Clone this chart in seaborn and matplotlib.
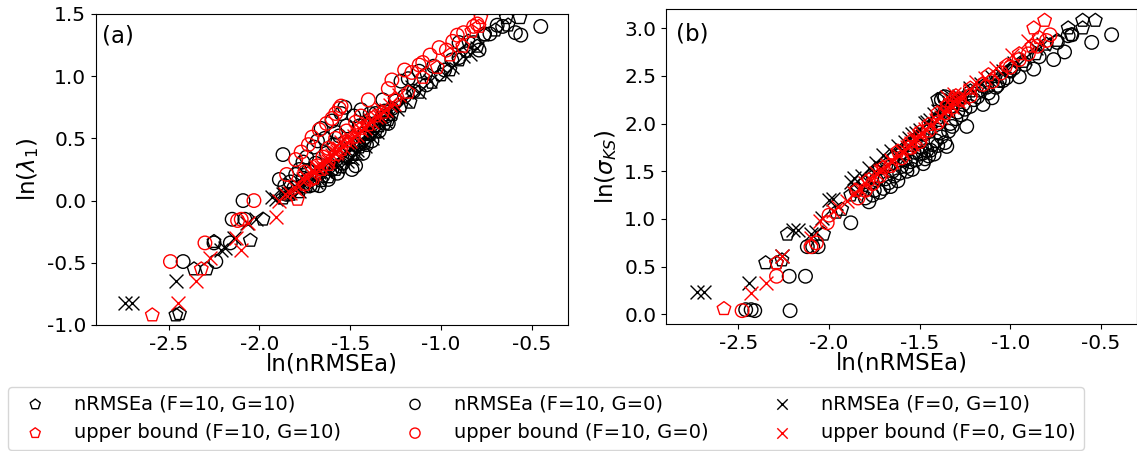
import matplotlib
matplotlib.use("Agg")
import matplotlib.pyplot as plt
import seaborn as sns

# ---------------- Panel (a): ln(lambda_1) vs ln(nRMSEa) ----------------
a_pent_nr_x = [-2.46, -2.44, -2.36, -2.29, -2.25, -2.05, -1.98, -1.87, -1.83, -1.78, -1.74, -1.70, -1.66,
               -1.62, -1.58, -1.55, -1.52, -1.48, -1.45, -1.42, -1.39, -1.36, -1.34, -1.31, -1.29, -1.27,
               -1.22, -1.17, -1.12, -1.08, -1.05, -1.00, -0.95, -0.90, -0.86, -0.85, -0.80, -0.76, -0.70,
               -0.64, -0.63, -0.565]
a_pent_nr_y = [-0.92, -0.91, -0.55, -0.55, -0.33, -0.32, -0.15, 0.02, 0.05, 0.07, 0.11, 0.12, 0.16,
               0.19, 0.25, 0.27, 0.34, 0.37, 0.43, 0.46, 0.53, 0.55, 0.60, 0.62, 0.65, 0.69,
               0.76, 0.79, 0.87, 1.02, 0.95, 1.01, 1.05, 1.13, 1.20, 1.28, 1.24, 1.33, 1.37,
               1.47, 1.41, 1.47]

a_pent_ub_x = [-2.59, -2.32, -1.79, -1.75, -1.70, -1.66, -1.62, -1.58, -1.55, -1.52, -1.48, -1.44, -1.40,
               -1.36, -1.32, -1.25, -1.18, -1.10, -1.02, -0.95, -0.88, -0.83, -0.79, -0.78]
a_pent_ub_y = [-0.92, -0.55, 0.01, 0.13, 0.18, 0.25, 0.29, 0.37, 0.41, 0.48, 0.51, 0.58, 0.61,
               0.68, 0.71, 0.81, 0.87, 0.99, 1.07, 1.17, 1.24, 1.36, 1.40, 1.47]

a_circ_nr_x = [-2.42, -2.24, -2.25, -2.16, -2.15, -2.08, -2.09, -1.89, -1.87, -1.86, -1.83, -1.80, -1.78,
               -1.76, -1.74, -1.72, -1.70, -1.68, -1.67, -1.66, -1.64, -1.62, -1.60, -1.58, -1.57, -1.55,
               -1.54, -1.53, -1.52, -1.50, -1.48, -1.47, -1.46, -1.44, -1.43, -1.42, -1.40, -1.38, -1.36,
               -1.34, -1.32, -1.30, -1.27, -1.22, -1.18, -1.15, -1.12, -1.08, -1.04, -0.98, -0.94, -0.90,
               -0.90, -0.82, -0.79, -0.76, -0.73, -0.69, -0.66, -0.59, -0.56, -0.45,
               -1.85, -1.81, -1.76, -1.73, -1.69, -1.65, -1.63, -1.60, -1.59, -1.56, -1.51, -1.49,
               -1.45, -1.41, -1.39, -1.37, -1.33, -1.31, -1.29, -1.25, -1.20]
a_circ_nr_y = [-0.49, -0.49, -0.34, -0.34, -0.15, -0.15, 0.00, 0.17, 0.37, 0.12, 0.15, 0.21, 0.25,
               0.31, 0.35, 0.12, 0.43, 0.48, 0.12, 0.58, 0.50, 0.17, 0.64, 0.55, 0.22, 0.70,
               0.30, 0.75, 0.60, 0.35, 0.68, 0.28, 0.45, 0.73, 0.38, 0.54, 0.62, 0.48, 0.70,
               0.56, 0.81, 0.68, 0.74, 0.96, 0.98, 0.88, 1.04, 0.93, 1.08, 1.05, 1.13, 1.27,
               1.15, 1.27, 1.21, 1.34, 1.34, 1.41, 1.40, 1.35, 1.33, 1.40,
               0.05, 0.10, 0.18, 0.24, 0.30, 0.20, 0.38, 0.25, 0.45, 0.52, 0.45, 0.25,
               0.60, 0.45, 0.70, 0.60, 0.66, 0.72, 0.62, 0.80, 0.84]

a_circ_ub_x = [-2.49, -2.30, -2.12, -2.10, -2.03, -1.85, -1.80, -1.77, -1.75, -1.73, -1.72, -1.71, -1.68,
               -1.67, -1.65, -1.63, -1.62, -1.60, -1.58, -1.58, -1.56, -1.55, -1.52, -1.47, -1.44, -1.40,
               -1.29, -1.27, -1.20, -1.16, -1.12, -1.10, -1.06, -1.01, -0.97, -0.935, -0.91, -0.875,
               -0.82, -0.80]
a_circ_ub_y = [-0.49, -0.34, -0.16, -0.15, 0.00, 0.21, 0.33, 0.39, 0.23, 0.45, 0.17, 0.51, 0.28,
               0.57, 0.35, 0.62, 0.42, 0.66, 0.50, 0.70, 0.74, 0.76, 0.56, 0.63, 0.68, 0.81,
               0.90, 0.97, 1.05, 1.03, 1.09, 1.11, 1.17, 1.23, 1.21, 1.28, 1.33, 1.35,
               1.40, 1.42]

a_x_nr_x = [-2.74, -2.70, -2.46, -2.21, -2.19, -2.14, -2.07, -2.02, -1.93, -1.91, -1.87, -1.84, -1.80,
            -1.76, -1.73, -1.70, -1.67, -1.64, -1.61, -1.58, -1.56, -1.53, -1.50, -1.47, -1.45, -1.43,
            -1.40, -1.37, -1.34, -1.31, -1.28, -1.24, -1.20, -1.16, -1.12, -1.06, -0.98, -0.94, -0.88,
            -0.84, -0.80,
            -1.62, -1.57, -1.52, -1.49, -1.46, -1.42, -1.38, -1.35, -1.78, -1.69]
a_x_nr_y = [-0.82, -0.82, -0.65, -0.40, -0.38, -0.30, -0.18, -0.15, 0.03, 0.01, 0.05, 0.06, 0.11,
            0.13, 0.18, 0.18, 0.23, 0.24, 0.29, 0.31, 0.35, 0.36, 0.42, 0.38, 0.46, 0.48,
            0.54, 0.56, 0.62, 0.64, 0.71, 0.74, 0.81, 0.91, 0.87, 0.96, 1.01, 1.07, 1.16,
            1.18, 1.23,
            0.22, 0.27, 0.32, 0.34, 0.41, 0.44, 0.50, 0.55, 0.08, 0.15]

a_x_ub_x = [-2.45, -2.35, -2.27, -2.13, -2.10, -2.06, -1.91, -1.89, -1.86, -1.83, -1.81, -1.78, -1.76,
            -1.74, -1.72, -1.70, -1.68, -1.66, -1.64, -1.62, -1.60, -1.58, -1.56, -1.54, -1.52, -1.50,
            -1.48, -1.46, -1.44, -1.42, -1.40, -1.38, -1.36, -1.34, -1.32, -1.30, -1.28, -1.26, -1.23,
            -1.75, -1.69, -1.63, -1.57, -1.55, -1.51, -1.45, -1.39, -1.33, -1.60]
a_x_ub_y = [-0.82, -0.65, -0.46, -0.30, -0.40, -0.18, -0.13, 0.00, 0.05, 0.06, 0.11, 0.12, 0.17,
            0.18, 0.22, 0.22, 0.27, 0.27, 0.32, 0.32, 0.37, 0.38, 0.42, 0.43, 0.47, 0.48,
            0.52, 0.53, 0.57, 0.58, 0.62, 0.63, 0.67, 0.68, 0.72, 0.73, 0.77, 0.78, 0.85,
            0.20, 0.27, 0.34, 0.40, 0.47, 0.52, 0.58, 0.65, 0.74, 0.41]

# ---------------- Panel (b): ln(sigma_KS) vs ln(nRMSEa) ----------------
b_pent_nr_x = [-2.35, -2.29, -2.26, -2.23, -2.03, -1.96, -1.93, -1.88, -1.84, -1.80, -1.76, -1.72, -1.68,
               -1.64, -1.60, -1.56, -1.52, -1.48, -1.44, -1.40, -1.36, -1.40, -1.37, -1.32, -1.28, -1.22,
               -1.15, -1.08, -1.00, -0.93, -0.86, -0.80, -0.74, -0.68, -0.66, -0.60, -0.60, -0.53]
b_pent_nr_y = [0.54, 0.54, 0.57, 0.84, 0.84, 1.07, 1.10, 1.25, 1.31, 1.38, 1.44, 1.53, 1.57,
               1.65, 1.69, 1.77, 1.81, 1.89, 1.95, 2.06, 2.14, 2.25, 2.28, 2.21, 2.25, 2.34,
               2.39, 2.49, 2.55, 2.65, 2.73, 2.83, 2.87, 3.00, 2.93, 3.00, 3.08, 3.08]

b_pent_ub_x = [-2.58, -2.29, -1.85, -1.78, -1.70, -1.62, -1.55, -1.50, -1.45, -1.40, -1.35, -1.30, -1.22,
               -1.12, -1.02, -0.95, -0.88, -0.84, -0.87, -0.81]
b_pent_ub_y = [0.06, 0.54, 1.30, 1.41, 1.54, 1.71, 1.81, 1.91, 1.99, 2.11, 2.19, 2.29, 2.37,
               2.51, 2.61, 2.73, 2.81, 2.90, 3.00, 3.08]

b_circ_nr_x = [-2.46, -2.43, -2.41, -2.215, -2.22, -2.13, -2.12, -2.09, -2.06, -1.88, -1.78, -1.85, -1.80,
               -1.75, -1.74, -1.70, -1.67, -1.66, -1.64, -1.62, -1.60, -1.57, -1.57, -1.54, -1.52, -1.50,
               -1.48, -1.48, -1.46, -1.45, -1.43, -1.41, -1.38, -1.36, -1.35, -1.34, -1.32, -1.30, -1.27,
               -1.25, -1.24, -1.22, -1.18, -1.15, -1.12, -1.08, -1.07, -1.04, -1.00, -0.95, -0.92, -0.87,
               -0.84, -0.76, -0.74, -0.70, -0.68, -0.66, -0.55, -0.44,
               -1.76, -1.72, -1.69, -1.65, -1.61, -1.58, -1.55, -1.53, -1.49, -1.47, -1.44, -1.42,
               -1.40, -1.39, -1.33, -1.29, -1.26, -1.20, -1.17, -1.13, -1.10, -1.06, -1.02, -0.98,
               -1.38, -1.36]
b_circ_nr_y = [0.05, 0.05, 0.04, 0.04, 0.40, 0.40, 0.71, 0.71, 0.71, 0.96, 1.18, 1.30, 1.22,
               1.30, 1.41, 1.32, 1.38, 1.34, 1.45, 1.40, 1.55, 1.50, 1.55, 1.52, 1.62, 1.68,
               1.58, 1.69, 1.72, 1.66, 1.78, 1.82, 1.86, 1.80, 1.76, 1.92, 1.97, 2.05, 2.09,
               2.15, 1.97, 2.18, 2.28, 2.20, 2.32, 2.38, 2.40, 2.45, 2.55, 2.49, 2.62, 2.57,
               2.70, 2.67, 2.85, 2.75, 2.92, 2.93, 2.85, 2.93,
               1.25, 1.28, 1.42, 1.50, 1.48, 1.62, 1.60, 1.70, 1.75, 1.63, 1.72, 1.68,
               1.77, 1.90, 2.00, 2.12, 2.20, 2.25, 2.35, 2.38, 2.27, 2.45, 2.48, 2.58,
               2.25, 2.28]

b_circ_ub_x = [-2.48, -2.29, -2.10, -2.07, -2.01, -2.00, -1.84, -1.80, -1.76, -1.72, -1.66, -1.60, -1.55,
               -1.50, -1.45, -1.40, -1.36, -1.32, -1.28, -1.22, -1.15, -1.10, -1.05, -1.00, -0.95, -0.90,
               -0.85, -0.80, -0.78]
b_circ_ub_y = [0.04, 0.40, 0.71, 0.75, 0.96, 1.04, 1.22, 1.30, 1.37, 1.45, 1.56, 1.64, 1.75,
               1.81, 1.93, 2.01, 2.11, 2.17, 2.25, 2.29, 2.41, 2.44, 2.53, 2.59, 2.67, 2.73,
               2.81, 2.87, 2.93]

b_x_nr_x = [-2.727, -2.69, -2.44, -2.26, -2.20, -2.17, -2.10, -2.07, -2.04, -2.00, -1.98, -1.88, -1.86,
            -1.82, -1.78, -1.74, -1.70, -1.66, -1.62, -1.58, -1.54, -1.50, -1.47, -1.44, -1.40, -1.36,
            -1.32, -1.28, -1.22, -1.16, -1.10, -1.04, -0.98, -0.92, -0.86, -0.82,
            -1.60, -1.56, -1.52, -1.46, -1.42, -1.38, -1.34, -1.30, -1.72]
b_x_nr_y = [0.234, 0.234, 0.33, 0.61, 0.88, 0.88, 0.84, 0.86, 1.01, 1.20, 1.21, 1.39, 1.43,
            1.45, 1.53, 1.59, 1.67, 1.71, 1.77, 1.81, 1.89, 1.93, 2.01, 2.04, 2.13, 2.17,
            2.25, 2.29, 2.37, 2.41, 2.49, 2.55, 2.63, 2.69, 2.79, 2.83,
            1.72, 1.85, 1.90, 2.02, 2.10, 2.15, 2.22, 2.28, 1.55]

b_x_ub_x = [-2.43, -2.35, -2.26, -2.10, -2.05, -1.98, -1.95, -1.90, -1.86, -1.83, -1.80, -1.77, -1.74,
            -1.71, -1.68, -1.65, -1.62, -1.59, -1.56, -1.54, -1.52, -1.50, -1.47, -1.44, -1.41, -1.38,
            -1.35, -1.32, -1.29, -1.26, -1.22, -1.19, -1.14, -1.08, -0.99, -0.90,
            -1.72, -1.66, -1.60, -1.57, -1.55, -1.53, -1.49, -1.37, -1.33, -1.30, -1.28, -1.35, -1.31]
b_x_ub_y = [0.22, 0.33, 0.61, 0.80, 0.98, 1.08, 1.13, 1.19, 1.27, 1.31, 1.38, 1.41, 1.48,
            1.51, 1.57, 1.60, 1.67, 1.70, 1.77, 1.79, 1.85, 1.87, 1.94, 1.97, 2.04, 2.07,
            2.14, 2.17, 2.24, 2.27, 2.35, 2.44, 2.48, 2.58, 2.72, 2.87,
            1.50, 1.62, 1.70, 1.75, 1.80, 1.84, 1.90, 2.12, 2.20, 2.25, 2.28, 2.28, 2.31]

labels = ["nRMSEa (F=10, G=10)", "upper bound (F=10, G=10)",
          "nRMSEa (F=10, G=0)", "upper bound (F=10, G=0)",
          "nRMSEa (F=0, G=10)", "upper bound (F=0, G=10)"]

plt.rcParams["axes.unicode_minus"] = False
plt.rcParams["font.family"] = ["DejaVu Sans"]

fig = plt.figure(figsize=(11.37, 4.51), dpi=100)
ax1 = fig.add_axes([96 / 1137, 1 - 325 / 451, 472 / 1137, 311 / 451])
ax2 = fig.add_axes([666 / 1137, 1 - 324 / 451, 471 / 1137, 315 / 451])

SZ = 95
LW = 1.0


def draw(ax, series):
    for (xs, ys, marker, color, lab) in series:
        if marker == "x":
            sns.scatterplot(x=xs, y=ys, marker="x", color=color, s=SZ * 1.05,
                            linewidth=LW, ax=ax, label=lab, legend=False)
        else:
            sns.scatterplot(x=xs, y=ys, marker=marker, facecolors="none",
                            edgecolor=color, s=SZ if marker == "o" else SZ * 1.1,
                            linewidth=LW, ax=ax, label=lab, legend=False)


series_a = [
    (a_pent_nr_x, a_pent_nr_y, "p", "black", labels[0]),
    (a_circ_nr_x, a_circ_nr_y, "o", "black", labels[2]),
    (a_x_nr_x, a_x_nr_y, "x", "black", labels[4]),
    (a_pent_ub_x, a_pent_ub_y, "p", "red", labels[1]),
    (a_circ_ub_x, a_circ_ub_y, "o", "red", labels[3]),
    (a_x_ub_x, a_x_ub_y, "x", "red", labels[5]),
]
series_b = [
    (b_pent_nr_x, b_pent_nr_y, "p", "black", labels[0]),
    (b_circ_nr_x, b_circ_nr_y, "o", "black", labels[2]),
    (b_x_nr_x, b_x_nr_y, "x", "black", labels[4]),
    (b_pent_ub_x, b_pent_ub_y, "p", "red", labels[1]),
    (b_circ_ub_x, b_circ_ub_y, "o", "red", labels[3]),
    (b_x_ub_x, b_x_ub_y, "x", "red", labels[5]),
]
draw(ax1, series_a)
draw(ax2, series_b)

for ax in (ax1, ax2):
    ax.set_xlim(-2.9, -0.3)
    ax.set_xticks([-2.5, -2.0, -1.5, -1.0, -0.5])
    ax.tick_params(labelsize=14.5)
    ax.set_xlabel("ln(nRMSEa)", fontsize=16.5, labelpad=-1)

ax1.set_ylim(-1.0, 1.5)
ax1.set_yticks([-1.0, -0.5, 0.0, 0.5, 1.0, 1.5])
ax1.set_ylabel(r"ln($\lambda_1$)", fontsize=16.5)
ax2.set_ylim(-0.1, 3.2)
ax2.set_yticks([0.0, 0.5, 1.0, 1.5, 2.0, 2.5, 3.0])
ax2.set_ylabel(r"ln($\sigma_{KS}$)", fontsize=16.5)

ax1.text(0.013, 0.965, "(a)", transform=ax1.transAxes, fontsize=16.5, va="top", ha="left")
ax2.text(0.021, 0.956, "(b)", transform=ax2.transAxes, fontsize=16.5, va="top", ha="left")

h, l = ax1.get_legend_handles_labels()
order = [labels.index(x) for x in l]
pairs = sorted(zip(order, h, l), key=lambda p: p[0])
handles = [p[1] for p in pairs]
labs = [p[2] for p in pairs]
fig.legend(handles, labs, loc="lower left", bbox_to_anchor=(8 / 1137, 1 / 451),
           ncol=3, fontsize=14, markerscale=0.75, columnspacing=2.8,
           handletextpad=1.0, borderaxespad=0.0, frameon=True)

fig.savefig("out.png", dpi=100)
